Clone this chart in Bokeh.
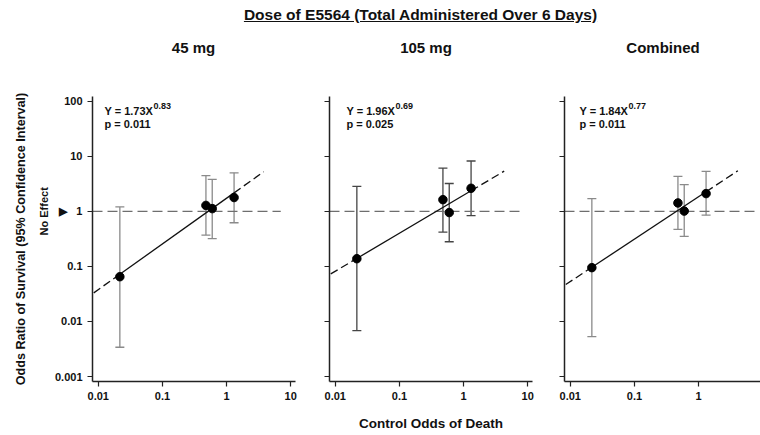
import math
from bokeh.plotting import figure
from bokeh.models import (Div, Label, Whisker, TeeHead, ColumnDataSource, FixedTicker,
                          CustomJSTickFormatter, Range1d, LogAxis)
from bokeh.layouts import row, column
from bokeh.embed import file_html
from bokeh.resources import INLINE

# ---------------- data ----------------
main_title = "Dose of E5564 (Total Administered Over 6 Days)"
panel_titles = ["45 mg", "105 mg", "Combined"]
x_axis_title = "Control Odds of Death"
y_axis_title = "Odds Ratio of Survival (95% Confidence Interval)"
no_effect_text = "No Effect"
no_effect_marker = "\u25B6"

control_odds = [0.0217, 0.477, 0.598, 1.31]

or_45 = [0.065, 1.28, 1.12, 1.78]
lo_45 = [0.0034, 0.37, 0.32, 0.62]
hi_45 = [1.2, 4.45, 3.8, 5.0]

or_105 = [0.138, 1.63, 0.95, 2.62]
lo_105 = [0.0068, 0.42, 0.28, 0.835]
hi_105 = [2.85, 6.1, 3.2, 8.2]

or_comb = [0.095, 1.42, 1.01, 2.1]
lo_comb = [0.0053, 0.47, 0.35, 0.85]
hi_comb = [1.7, 4.3, 3.05, 5.3]

fit_coef = [1.73, 1.96, 1.84]
fit_coef_text = ["1.73", "1.96", "1.84"]
fit_exp = [0.83, 0.69, 0.77]
fit_exp_text = ["0.83", "0.69", "0.77"]
fit_p_text = ["0.011", "0.025", "0.011"]
fit_x_start = [0.0085, 0.0085, 0.0085]
fit_x_end = [3.8, 4.3, 4.1]
no_effect_value = 1
no_effect_end = [7.0, 8.3, 8.7]

x_ticks = [0.01, 0.1, 1, 10]
x_tick_labels = ["0.01", "0.1", "1", "10"]
y_ticks = [0.001, 0.01, 0.1, 1, 10, 100]
y_tick_labels = ["0.001", "0.01", "0.1", "1", "10", "100"]

panels = [
    (or_45, lo_45, hi_45),
    (or_105, lo_105, hi_105),
    (or_comb, lo_comb, hi_comb),
]

# ---------------- styling / layout ----------------
FONT = "Liberation Sans"
FRAME_H = 285
PX_PER_DEC = 64.14
X_LOG_START = -2.09
Y_LOG = (-3.09, 2.085)
frame_widths = [203, 203, 196]
border_left = [92, 17, 16]
border_right = [17, 16, 0]
bar_colors = ["#8a8a8a", "#454545", "#8a8a8a"]
eq_x = [12, 17, 15]
title_centers = [193.5, 426, 663]
TXT = "#111111"
HEADER_H = 60

fmt_code = "const i = tk.indexOf(tick); return i >= 0 ? lb[i] : String(tick);"
blank_code = "return '';"

# y labels of first panel: the "no effect" marker sits left of the "1" label
nbsp = "\u00A0"
fig1_y_labels = [(no_effect_marker + nbsp * 3 + lab) if t == no_effect_value else lab
                 for t, lab in zip(y_ticks, y_tick_labels)]


def fit(c, e, x):
    return c * x ** e


def style_axis(ax):
    ax.axis_line_color = "#222222"
    ax.axis_line_width = 1.5
    ax.major_tick_line_color = "#222222"
    ax.major_tick_line_width = 1.2
    ax.major_tick_out = 5
    ax.major_tick_in = 0
    ax.minor_tick_line_color = None
    ax.major_label_text_font = FONT
    ax.major_label_text_font_size = "11px"
    ax.major_label_text_font_style = "bold"
    ax.major_label_text_color = TXT
    ax.major_label_standoff = 5
    ax.axis_label_text_font = FONT
    ax.axis_label_text_font_style = "bold"
    ax.axis_label_text_color = TXT


figs = []
for i in range(3):
    fw = frame_widths[i]
    x_end = 10 ** (X_LOG_START + fw / PX_PER_DEC)
    p = figure(x_axis_type="log", y_axis_type="log", title=None,
               frame_width=fw, frame_height=FRAME_H,
               x_range=Range1d(10 ** X_LOG_START, x_end),
               y_range=Range1d(10 ** Y_LOG[0], 10 ** Y_LOG[1]),
               output_backend="svg", toolbar_location=None,
               min_border_left=border_left[i], min_border_right=border_right[i],
               min_border_top=96 - HEADER_H, min_border_bottom=53)
    p.outline_line_color = None
    p.grid.visible = False
    p.background_fill_color = "white"
    p.border_fill_color = "white"

    style_axis(p.xaxis[0])
    style_axis(p.yaxis[0])

    p.xaxis[0].ticker = FixedTicker(ticks=x_ticks)
    p.xaxis[0].formatter = CustomJSTickFormatter(args=dict(tk=x_ticks, lb=x_tick_labels), code=fmt_code)
    p.yaxis[0].ticker = FixedTicker(ticks=y_ticks)

    if i == 0:
        p.yaxis[0].formatter = CustomJSTickFormatter(args=dict(tk=y_ticks, lb=fig1_y_labels), code=fmt_code)
        # second left axis carrying the "No Effect" note and the axis title
        ne_axis = LogAxis(ticker=FixedTicker(ticks=[no_effect_value]),
                          formatter=CustomJSTickFormatter(args=dict(tk=[no_effect_value], lb=[no_effect_text]),
                                                          code=fmt_code))
        style_axis(ne_axis)
        ne_axis.axis_line_color = None
        ne_axis.major_tick_line_color = None
        ne_axis.major_tick_out = 0
        ne_axis.major_label_standoff = 1
        ne_axis.major_label_orientation = "vertical"
        ne_axis.axis_label = y_axis_title
        ne_axis.axis_label_text_font_size = "12.6px"
        ne_axis.axis_label_standoff = 8
        p.add_layout(ne_axis, "left")
    else:
        p.yaxis[0].formatter = CustomJSTickFormatter(code=blank_code)
    if i == 1:
        p.xaxis[0].axis_label = x_axis_title
        p.xaxis[0].axis_label_text_font_size = "13.5px"
        p.xaxis[0].axis_label_standoff = 13

    ors, los, his = panels[i]
    src = ColumnDataSource(dict(x=control_odds, y=ors, lo=los, hi=his))

    # no-effect reference line
    p.line([10 ** X_LOG_START, no_effect_end[i]], [no_effect_value, no_effect_value],
           line_color="#6e6e6e", line_width=1.3, line_dash="10 5")

    # fitted line: dashed extrapolation, solid over the data range
    c, e = fit_coef[i], fit_exp[i]
    xmin, xmax = min(control_odds), max(control_odds)
    x0, x1 = fit_x_start[i], fit_x_end[i]
    p.line([x0, xmin], [fit(c, e, x0), fit(c, e, xmin)], line_color="#111111", line_width=1.3, line_dash="8 4")
    p.line([xmin, xmax], [fit(c, e, xmin), fit(c, e, xmax)], line_color="#111111", line_width=1.3)
    p.line([xmax, x1], [fit(c, e, xmax), fit(c, e, x1)], line_color="#111111", line_width=1.3, line_dash="8 4")

    # error bars
    col = bar_colors[i]
    w = Whisker(source=src, base="x", lower="lo", upper="hi", line_color=col, line_width=1.3,
                upper_head=TeeHead(size=9, line_color=col, line_width=1.3),
                lower_head=TeeHead(size=9, line_color=col, line_width=1.3),
                level="underlay")
    p.add_layout(w)

    p.scatter("x", "y", source=src, size=8.5, color="black")

    # equation and p value
    base_text = "Y = " + fit_coef_text[i] + "X"
    p.add_layout(Label(x=eq_x[i], y=270.5, x_units="screen", y_units="screen",
                       text=base_text, text_font=FONT, text_font_size="11px",
                       text_font_style="bold", text_color=TXT,
                       text_align="left", text_baseline="middle"))
    p.add_layout(Label(x=eq_x[i] + 49, y=275.5, x_units="screen", y_units="screen",
                       text=fit_exp_text[i], text_font=FONT, text_font_size="9px",
                       text_font_style="bold", text_color=TXT,
                       text_align="left", text_baseline="middle"))
    p.add_layout(Label(x=eq_x[i], y=257.5, x_units="screen", y_units="screen",
                       text="p = " + fit_p_text[i], text_font=FONT, text_font_size="11px",
                       text_font_style="bold", text_color=TXT,
                       text_align="left", text_baseline="middle"))
    figs.append(p)

# header: main (underlined) title and the three panel titles
parts = ['<div style="position:relative;width:760px;height:%dpx;'
         "font-family:'Liberation Sans',Arial,sans-serif;font-weight:bold;color:#111111;"
         'white-space:nowrap;">' % HEADER_H]
parts.append('<div style="position:absolute;left:0px;top:7px;width:760px;box-sizing:border-box;'
             'padding-left:81px;text-align:center;font-size:15.5px;line-height:16px;'
             'text-decoration:underline;">' + main_title + '</div>')
for cx, t in zip(title_centers, panel_titles):
    parts.append('<div style="position:absolute;left:%.1fpx;top:39px;width:200px;text-align:center;'
                 'font-size:15px;line-height:18px;">%s</div>' % (cx - 100, t))
parts.append('</div>')
header = Div(text="".join(parts), width=760, height=HEADER_H, margin=0)

layout = column(header, row(*figs))

open("out.html", "w").write(file_html(layout, INLINE))
